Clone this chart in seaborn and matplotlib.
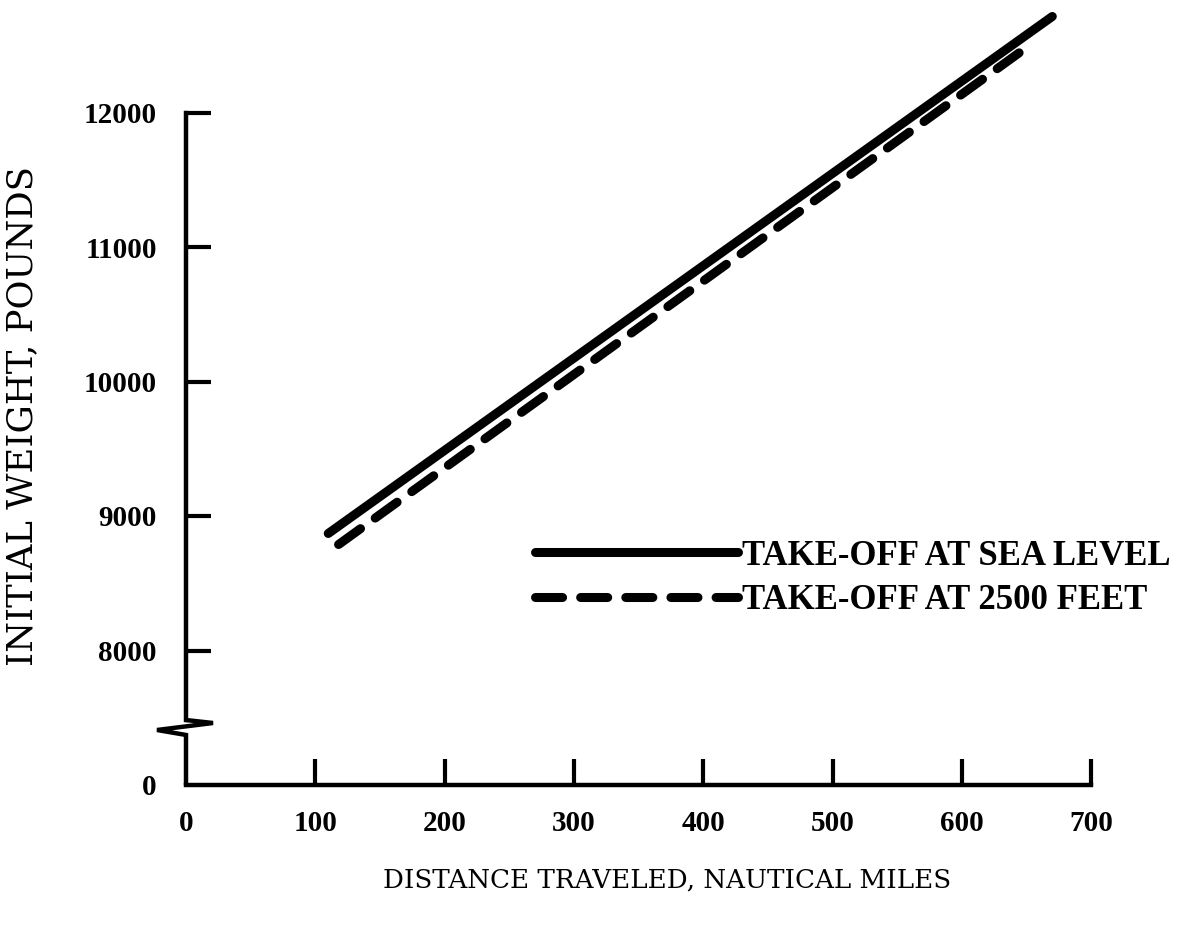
import numpy as np
import pandas as pd
import matplotlib
matplotlib.use("Agg")
import matplotlib.pyplot as plt
import seaborn as sns
from matplotlib.lines import Line2D

# ---- data ----
series_names = ["TAKE-OFF AT SEA LEVEL", "TAKE-OFF AT 2500 FEET"]
distance_sea = [110, 670]
weight_sea = [8870, 12714]
distance_2500 = [118, 650]
weight_2500 = [8788, 12483]

x_ticks = [0, 100, 200, 300, 400, 500, 600, 700]
x_tick_labels = ["0", "100", "200", "300", "400", "500", "600", "700"]
y_ticks_real = [0, 8000, 9000, 10000, 11000, 12000]
y_tick_labels = ["0", "8000", "9000", "10000", "11000", "12000"]

x_label = "DISTANCE TRAVELED, NAUTICAL MILES"
y_label = "INITIAL WEIGHT, POUNDS"

BREAK_POS = 7000  # where the "0" of the broken axis sits


def to_axis(w):
    return BREAK_POS if w == 0 else w


df = pd.DataFrame({
    "distance": distance_sea + distance_2500,
    "weight": weight_sea + weight_2500,
    "series": [series_names[0]] * len(distance_sea) + [series_names[1]] * len(distance_2500),
})

sns.set_theme(style="white")
plt.rcParams["font.family"] = ["Liberation Serif", "DejaVu Serif"]
plt.rcParams["text.color"] = "black"

W, H = 1177, 927
fig = plt.figure(figsize=(W / 100, H / 100), dpi=100)
fig.patch.set_facecolor("white")

left_px, bottom_px = 186, 785
x_scale = 1.293          # px per unit
y_scale = 0.1345         # px per pound
xmax = 765
ymax = BREAK_POS + bottom_px / y_scale
ax = fig.add_axes([left_px / W, (H - bottom_px) / H, xmax * x_scale / W, bottom_px / H])
ax.set_facecolor("white")

lw_data = 6.5
dash_pattern = (3.0, 2.0)
sns.lineplot(data=df, x="distance", y="weight", hue="series", style="series",
             palette={series_names[0]: "black", series_names[1]: "black"},
             dashes={series_names[0]: "", series_names[1]: dash_pattern},
             linewidth=lw_data, legend=False, ax=ax, estimator=None, sort=True)
for ln in ax.lines:
    ln.set_solid_capstyle("round")
    ln.set_dash_capstyle("round")

ax.set_xlim(0, xmax)
ax.set_ylim(BREAK_POS, ymax)

# spines
for s in ["top", "right", "left"]:
    ax.spines[s].set_visible(False)
ax.spines["bottom"].set_bounds(0, 700)
ax.spines["bottom"].set_linewidth(3.2)
ax.spines["bottom"].set_color("black")

# broken left axis drawn as axis decoration
lw_axis = 3.2
ax.plot([0, 0], [7483, 12000], color="black", lw=lw_axis, clip_on=False, solid_capstyle="projecting")
ax.plot([0, 20.9, -22.4, 0, 0], [7483, 7461, 7409, 7372, BREAK_POS], color="black",
        lw=lw_axis, clip_on=False, solid_joinstyle="miter", solid_capstyle="butt")

# ticks
ax.set_xticks(x_ticks)
ax.set_xticklabels(x_tick_labels)
ax.set_yticks([to_axis(v) for v in y_ticks_real])
ax.set_yticklabels(y_tick_labels)
ax.tick_params(axis="x", direction="in", length=19, width=3, pad=18, bottom=True,
               labelsize=21, color="black", labelcolor="black")
ax.tick_params(axis="y", direction="in", length=18, width=3, pad=21, left=True,
               labelsize=21, color="black", labelcolor="black")
ax.xaxis.get_major_ticks()[0].tick1line.set_visible(False)
ax.yaxis.get_major_ticks()[0].tick1line.set_visible(False)
for lab in ax.get_xticklabels() + ax.get_yticklabels():
    lab.set_fontweight("bold")
    lab.set_family(["Liberation Serif", "DejaVu Serif"])
ax.grid(False)

# axis labels
ax.set_xlabel(x_label, fontsize=18.8, family=["DejaVu Serif"], color="black")
ax.xaxis.set_label_coords((667 - left_px) / (xmax * x_scale), -(880 - bottom_px) / bottom_px)
ax.xaxis.label.set_va("center")
ax.set_ylabel(y_label, fontsize=25.5, family=["DejaVu Serif"], color="black")
ax.yaxis.set_label_coords((22 - left_px) / (xmax * x_scale), (bottom_px - 416) / bottom_px)
ax.yaxis.label.set_va("center")

# legend
handles = [
    Line2D([], [], color="black", lw=lw_data, solid_capstyle="round"),
    Line2D([], [], color="black", lw=lw_data, ls=(0, dash_pattern), dash_capstyle="round"),
]
leg_fs = 25
em = leg_fs * 100 / 72
leg = ax.legend(handles, series_names, loc="center left", frameon=False,
                bbox_to_anchor=(535 / W, 1 - 578.5 / H), bbox_transform=fig.transFigure,
                borderpad=0, borderaxespad=0, handlelength=203 / em, handletextpad=0.12,
                labelspacing=0.34, labelcolor="black",
                prop={"family": "Liberation Serif", "weight": "bold", "size": leg_fs})

fig.savefig("out.png", dpi=100, facecolor="white")
